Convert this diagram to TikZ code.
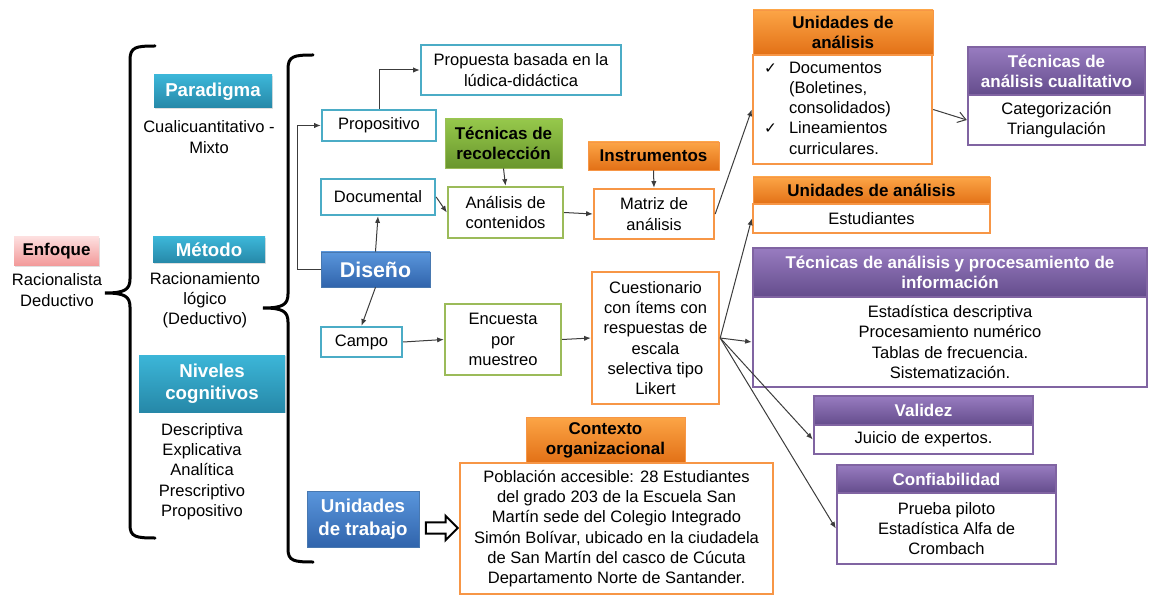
\documentclass[tikz,border=0pt]{standalone}
\usepackage{fontspec}
\setmainfont{Liberation Sans}
\newfontfamily\symfont{DejaVu Sans}
\usetikzlibrary{arrows.meta,shadows,shapes.arrows}

\definecolor{cyanline}{RGB}{75,172,198}
\definecolor{greenline}{RGB}{155,187,89}
\definecolor{orangeline}{RGB}{247,150,70}
\definecolor{purpleline}{RGB}{128,100,162}
\definecolor{tealtop}{RGB}{60,182,216}
\definecolor{tealbot}{RGB}{38,136,168}
\definecolor{greentop}{RGB}{150,200,75}
\definecolor{greenbot}{RGB}{105,150,45}
\definecolor{orangetop}{RGB}{252,165,70}
\definecolor{orangebot}{RGB}{226,112,22}
\definecolor{purpletop}{RGB}{152,124,192}
\definecolor{purplebot}{RGB}{100,76,140}
\definecolor{bluetop}{RGB}{90,150,220}
\definecolor{bluebot}{RGB}{48,100,172}
\definecolor{pinktop}{RGB}{253,222,222}
\definecolor{pinkbot}{RGB}{242,152,152}
\definecolor{linkgray}{RGB}{60,60,60}

\newcommand{\chk}{{\symfont\fontsize{11.5}{12}\selectfont ✓}}

\tikzset{every picture/.style={line width=0.75pt}}
\tikzset{
  plain/.style={align=center,inner sep=0pt,font=\fontsize{12.4}{15.2}\selectfont},
  cyanbox/.style={plain,draw=cyanline,line width=1.8pt,fill=white},
  greenbox/.style={plain,draw=greenline,line width=1.8pt,fill=white},
  orangebox/.style={plain,draw=orangeline,line width=1.8pt,fill=white},
  purplebox/.style={plain,draw=purpleline,line width=1.8pt,fill=white},
  head/.style={align=center,inner sep=0pt,font=\bfseries\fontsize{12.75}{15}\selectfont,
    drop shadow={opacity=0.25,shadow xshift=1pt,shadow yshift=-1pt}},
  tealhead/.style={head,font=\bfseries\fontsize{14}{16.5}\selectfont,text=white,top color=tealtop,bottom color=tealbot},
  bluehead/.style={head,font=\bfseries\fontsize{14}{17}\selectfont,text=white,top color=bluetop,bottom color=bluebot,draw=bluetop!80!black,line width=0.5pt},
  pinkhead/.style={head,top color=pinktop,bottom color=pinkbot},
  greenhead/.style={head,top color=greentop,bottom color=greenbot,draw=greenline,line width=0.5pt},
  orangehead/.style={head,top color=orangetop,bottom color=orangebot,draw=orangeline,line width=0.5pt},
  purplehead/.style={head,text=white,top color=purpletop,bottom color=purplebot,draw=purpleline,line width=1.2pt},
  link/.style={draw=linkgray,line width=0.75pt,-{Latex[length=5pt,width=4pt]}},
  brace/.style={line width=2.25pt,line cap=round}
}

\begin{document}
\begin{tikzpicture}[x=0.75pt,y=0.75pt,yscale=-1,xscale=1]
\useasboundingbox (0,0) rectangle (1149,595);

%Shape: Brace
\draw [brace] (155,46) .. controls (136,46) and (130,47) .. (130,60) -- (130,279) .. controls (130,290) and (124,293) .. (105,293) .. controls (124,293) and (130,296) .. (130,307) -- (130,525) .. controls (130,537) and (136,538) .. (155,538) ;
%Shape: Brace
\draw [brace] (313,55) .. controls (294,55) and (288,56) .. (288,69) -- (288,294) .. controls (288,305) and (282,308) .. (263,308) .. controls (282,308) and (288,311) .. (288,322) -- (288,549) .. controls (288,561) and (294,562) .. (313,562) ;

% Enfoque
\node [pinkhead,minimum width=63.75pt,minimum height=21.75pt] (enfoque) at (56.5,251.5) {Enfoque};
\node [plain] (enfoquetxt) at (57,290) {Racionalista\\Deductivo};

% Paradigma
\node [tealhead,minimum width=88.5pt,minimum height=24.75pt] (paradigma) at (213,91.5) {Paradigma};
\node [plain] (paradigmatxt) at (209,137) {Cualicuantitativo -\\Mixto};

% Metodo
\node [tealhead,minimum width=84pt,minimum height=19.5pt] (metodo) at (209,250) {Método};
\node [plain] (metodotxt) at (205,300) {Racionamiento\\lógico\\(Deductivo)};

% Niveles
\node [tealhead,minimum width=109.5pt,minimum height=42.75pt] (niveles) at (212,383.5) {Niveles\\cognitivos};
\node [plain] (nivelestxt) at (202,471.5) {Descriptiva\\Explicativa\\Analítica\\Prescriptivo\\Propositivo};

% Diseno branch
\node [bluehead,font=\bfseries\fontsize{16}{18}\selectfont,minimum width=81.75pt,minimum height=26.25pt] (diseno) at (375.5,269.5) {Diseño};
\node [cyanbox,minimum width=85.5pt,minimum height=23.25pt] (propositivo) at (379,125.5) {Propositivo};
\node [cyanbox,minimum width=150pt,minimum height=37.5pt] (propuesta) at (521,70) {Propuesta basada en la\\lúdica-didáctica};
\node [cyanbox,minimum width=85.5pt,minimum height=27pt] (documental) at (378,197) {Documental};
\node [cyanbox,minimum width=60.75pt,minimum height=22.5pt] (campo) at (361.5,342) {Campo};

\node [greenhead,minimum width=87.75pt,minimum height=36.75pt] (recoleccion) at (503.5,143.5) {Técnicas de\\recolección};
\node [greenbox,minimum width=86.25pt,minimum height=38.25pt] (analisis) at (505.5,212.5) {Análisis de\\contenidos};
\node [greenbox,minimum width=87pt,minimum height=53.25pt] (encuesta) at (503,339.5) {Encuesta\\por\\muestreo};

\node [orangehead,minimum width=98.25pt,minimum height=21pt] (instrumentos) at (653.5,156) {Instrumentos};
\node [orangebox,minimum width=90pt,minimum height=37.5pt] (matriz) at (654,214) {Matriz de\\análisis};
\node [orangebox,minimum width=95.25pt,minimum height=99pt] (cuestionario) at (655.5,338) {Cuestionario\\con ítems con\\respuestas de\\escala\\selectiva tipo\\Likert};

% Unidades de trabajo
\node [bluehead,minimum width=84pt,minimum height=42pt] (trabajo) at (363,519) {Unidades\\de trabajo};
\node [single arrow,draw,fill=white,line width=1.5pt,minimum height=24pt,single arrow head extend=5pt,inner sep=3.4pt] (toarrow) at (439,528) {};
\node [orangehead,minimum width=119.25pt,minimum height=34.5pt] (contexto) at (605.5,440) {Contexto\\organizacional};
\node [orangebox,minimum width=234.75pt,minimum height=98.25pt] (poblacion) at (616.5,528.5) {Población accesible: 28 Estudiantes\\del grado 203 de la Escuela San\\Martín sede del Colegio Integrado\\Simón Bolívar, ubicado en la ciudadela\\de San Martín del casco de Cúcuta\\Departamento Norte de Santander.};

% Unidades de analisis
\node [orangehead,minimum width=135pt,minimum height=33.75pt] (ua1) at (843,32.5) {Unidades de\\análisis};
\node [orangebox,minimum width=134.25pt,minimum height=81.75pt,text width=117.75pt,inner xsep=8.25pt,align=left] (ua1body) at (842.5,109.5) {\begin{tabular}{@{}p{18.75pt}@{}l@{}}
\chk & Documentos\\
 & (Boletines,\\
 & consolidados)\\
\chk & Lineamientos\\
 & curriculares.
\end{tabular}};
\node [purplehead,minimum width=132.75pt,minimum height=36pt] (cualitativo) at (1056.5,71) {Técnicas de\\análisis cualitativo};
\node [purplebox,minimum width=132.75pt,minimum height=37.5pt] (cualitativobody) at (1056.5,120) {Categorización\\Triangulación};

\node [orangehead,minimum width=177.75pt,minimum height=20.25pt] (ua2) at (871.5,190.5) {Unidades de análisis};
\node [orangebox,minimum width=177.75pt,minimum height=21.75pt] (ua2body) at (871.5,218.5) {Estudiantes};

\node [purplehead,minimum width=295.5pt,minimum height=36.75pt] (procesamiento) at (950,272.5) {Técnicas de análisis y procesamiento de\\información};
\node [purplebox,minimum width=295.5pt,minimum height=67.5pt] (procesamientobody) at (950,342) {Estadística descriptiva\\Procesamiento numérico\\Tablas de frecuencia.\\Sistematización.};

\node [purplehead,minimum width=164.25pt,minimum height=21.75pt] (validez) at (923.5,410.5) {Validez};
\node [purplebox,minimum width=164.25pt,minimum height=21.75pt] (validezbody) at (923.5,439.5) {Juicio de expertos.};

\node [purplehead,minimum width=164.25pt,minimum height=21pt] (confiabilidad) at (946.5,479) {Confiabilidad};
\node [purplebox,minimum width=164.25pt,minimum height=53.25pt] (confiabilidadbody) at (946.5,528.5) {Prueba piloto\\Estadística Alfa de\\Crombach};

%Straight Lines
\draw [link] (diseno.west) -- ++(-23,0) |- (propositivo.west);
\draw [link] (propositivo.north) |- (propuesta.west);
\draw [link] (diseno.north) -- (documental.south);
\draw [link] (diseno.south) -- (campo.north);
\draw [link] (documental.east) -- (analisis.west);
\draw [link] (recoleccion.south) -- (analisis.north);
\draw [link] (analisis.east) -- (matriz.west);
\draw [link] (instrumentos.south) -- (matriz.north);
\draw [link] (matriz.east) -- (ua1body.west);
\draw [draw=linkgray,-{Straight Barb[length=6pt,width=8pt]}] (ua1body.east) -- (cualitativobody.west);
\draw [link] (campo.east) -- (encuesta.west);
\draw [link] (encuesta.east) -- (cuestionario.west);
\draw [link] (cuestionario.east) -- (ua2body.west);
\draw [link] (cuestionario.east) -- (procesamientobody.west);
\draw [link] (cuestionario.east) -- (validezbody.west);
\draw [link] (cuestionario.east) -- (confiabilidadbody.west);

\end{tikzpicture}
\end{document}
